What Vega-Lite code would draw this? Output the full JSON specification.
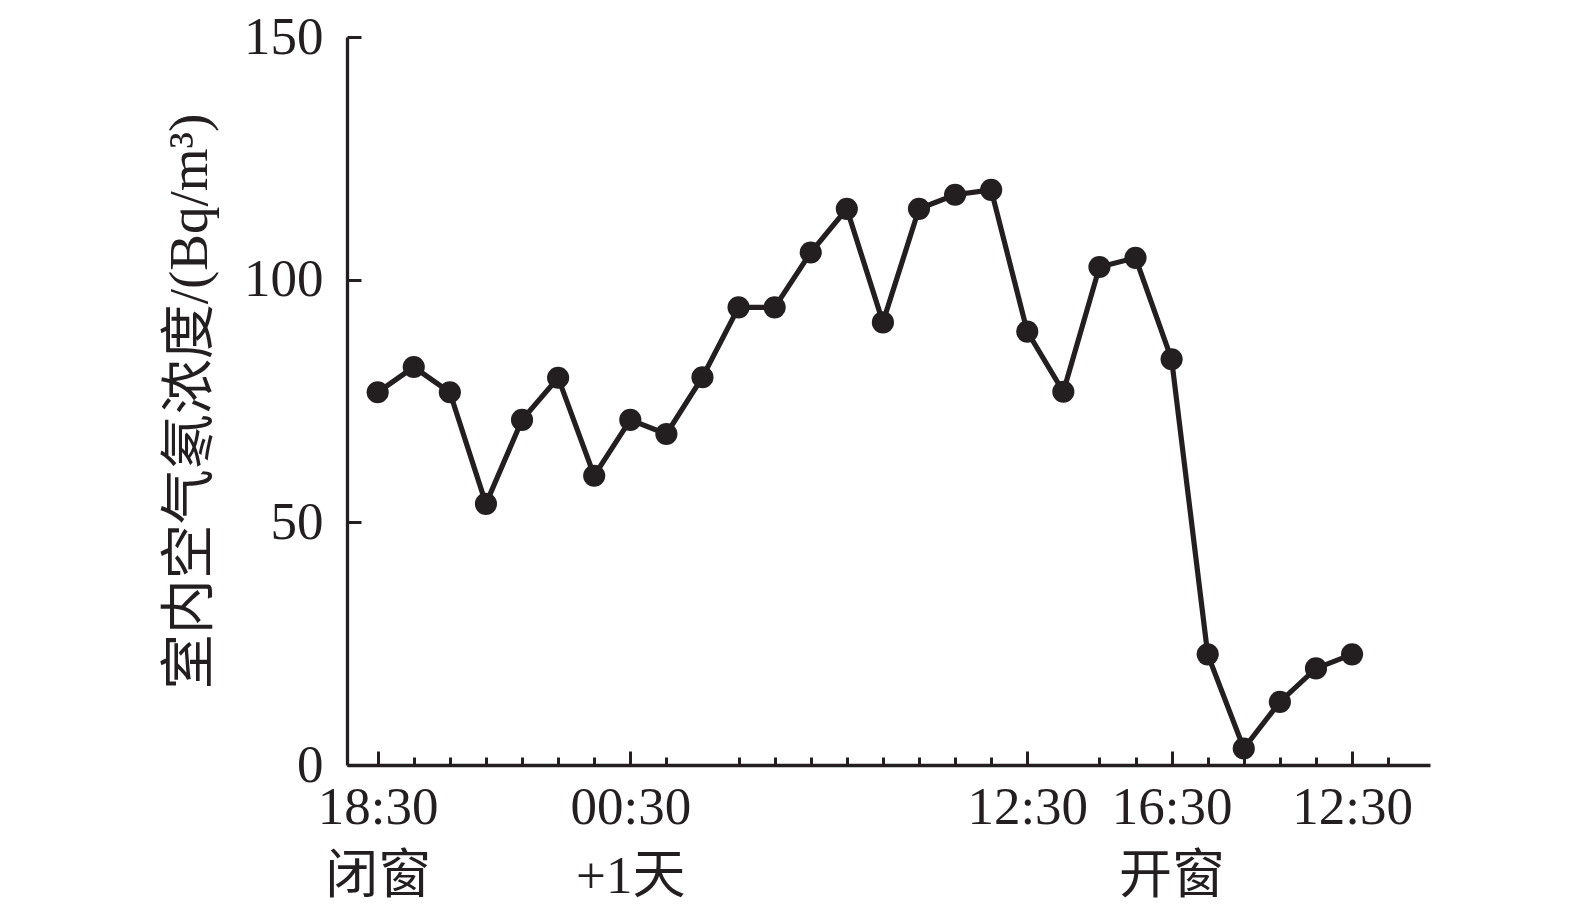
{
  "$schema": "https://vega.github.io/schema/vega-lite/v6.json",
  "autosize": {"type": "none"},
  "width": 1083,
  "height": 728,
  "padding": {"left": 347, "top": 37, "right": 145, "bottom": 147},
  "background": "white",
  "config": {
    "view": {"stroke": null},
    "axis": {
      "domainColor": "#231f20",
      "tickColor": "#231f20",
      "labelColor": "#231f20",
      "titleColor": "#231f20",
      "domainWidth": 3.3,
      "tickWidth": 3,
      "grid": false,
      "labelFont": "Liberation Serif, Noto Sans CJK SC",
      "titleFont": "Liberation Serif, Noto Sans CJK SC",
      "labelFontSize": 53,
      "titleFontSize": 55,
      "titleFontWeight": "normal"
    }
  },
  "data": {
    "values": [
      {"i": 0, "v": 76.8},
      {"i": 1, "v": 82.0},
      {"i": 2, "v": 76.8},
      {"i": 3, "v": 53.8},
      {"i": 4, "v": 71.1},
      {"i": 5, "v": 79.8},
      {"i": 6, "v": 59.6},
      {"i": 7, "v": 71.1},
      {"i": 8, "v": 68.2},
      {"i": 9, "v": 79.9},
      {"i": 10, "v": 94.3},
      {"i": 11, "v": 94.3},
      {"i": 12, "v": 105.6},
      {"i": 13, "v": 114.6},
      {"i": 14, "v": 91.2},
      {"i": 15, "v": 114.6},
      {"i": 16, "v": 117.5},
      {"i": 17, "v": 118.5},
      {"i": 18, "v": 89.3},
      {"i": 19, "v": 76.9},
      {"i": 20, "v": 102.6},
      {"i": 21, "v": 104.5},
      {"i": 22, "v": 83.6},
      {"i": 23, "v": 22.8},
      {"i": 24, "v": 3.4},
      {"i": 25, "v": 13.0},
      {"i": 26, "v": 19.9},
      {"i": 27, "v": 22.8}
    ]
  },
  "encoding": {
    "y": {
      "field": "v",
      "type": "quantitative",
      "scale": {"domain": [0, 150], "nice": false, "zero": false},
      "axis": {
        "values": [0, 50, 100, 150],
        "tickSize": -14,
        "labelPadding": 38,
        "title": "室内空气氡浓度/(Bq/m³)",
        "titlePadding": 25
      }
    }
  },
  "layer": [
    {
      "mark": {"type": "line", "color": "#231f20", "strokeWidth": 5.2},
      "encoding": {
        "x": {
          "field": "i",
          "type": "quantitative",
          "scale": {"domain": [-0.85, 29.16], "nice": false, "zero": false},
          "axis": {
            "orient": "bottom",
            "title": null,
            "values": [0, 7, 18, 22, 27],
            "tickSize": -14,
            "labelPadding": 30,
            "labelLineHeight": 69,
            "labelFlush": false,
            "labelOverlap": false,
            "labelExpr": "datum.value == 0 ? ['18:30', '闭窗'] : datum.value == 7 ? ['00:30', '+1天'] : datum.value == 18 ? '12:30' : datum.value == 22 ? ['16:30', '开窗'] : datum.value == 27 ? '12:30' : ''"
          }
        }
      }
    },
    {
      "mark": {"type": "point", "filled": true, "color": "#231f20", "opacity": 1, "size": 490},
      "encoding": {
        "x": {
          "field": "i",
          "type": "quantitative",
          "axis": {
            "orient": "bottom",
            "title": null,
            "values": [1, 2, 3, 4, 5, 6, 8, 10, 11, 12, 13, 14, 15, 16, 17, 20, 21, 23, 24, 25, 26, 28],
            "tickSize": -8,
            "labels": false,
            "domain": false
          }
        }
      }
    }
  ],
  "resolve": {"axis": {"x": "independent"}}
}
